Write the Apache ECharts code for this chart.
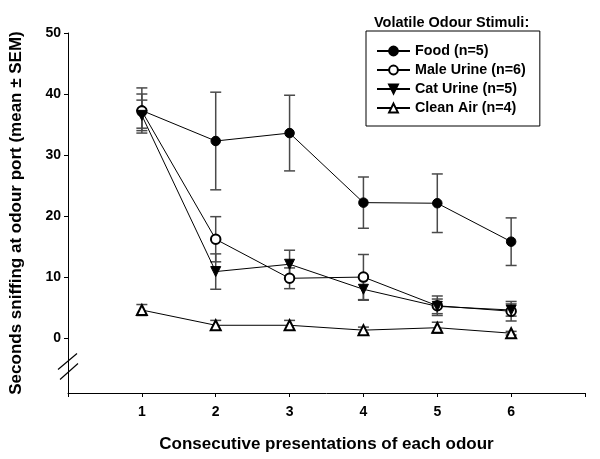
<!DOCTYPE html>
<html>
<head>
<meta charset="utf-8">
<script src="https://cdn.jsdelivr.net/npm/echarts@6/dist/echarts.min.js"></script>
<style>html,body{margin:0;padding:0;background:#fff;}#c{width:600px;height:459px;}</style>
</head>
<body>
<div id="c"></div>
<script>
const presentations = [1, 2, 3, 4, 5, 6];
const yTicks = [0, 10, 20, 30, 40, 50];
const xTickLabels = ['1', '2', '3', '4', '5', '6'];
const seriesNames = ['Food (n=5)', 'Male Urine (n=6)', 'Cat Urine (n=5)', 'Clean Air (n=4)'];
const foodMean = [37.3, 32.3, 33.6, 22.2, 22.1, 15.8];
const foodSem  = [3.7, 8.0, 6.2, 4.2, 4.8, 3.9];
const maleMean = [37.2, 16.2, 9.8, 10.0, 5.3, 4.4];
const maleSem  = [2.8, 3.7, 1.7, 3.7, 1.6, 1.6];
const catMean  = [36.5, 10.9, 12.1, 8.0, 5.2, 4.6];
const catSem   = [2.5, 2.9, 2.3, 1.8, 1.2, 1.0];
const airMean  = [4.6, 2.1, 2.1, 1.3, 1.7, 0.8];
const airSem   = [0.9, 0.8, 0.8, 0.5, 0.9, 0.3];

const FONT = 'Arial, "Liberation Sans", Helvetica, sans-serif';
const chart = echarts.init(document.getElementById('c'), null, {renderer: 'canvas'});

function pts(means) { return presentations.map((x, i) => [x, means[i]]); }
function errs(means, sems) { return presentations.map((x, i) => [x, means[i] - sems[i], means[i] + sems[i]]); }

function errSeries(means, sems) {
  return {
    type: 'custom',
    silent: true,
    z: 1,
    data: errs(means, sems),
    encode: {x: 0, y: [1, 2]},
    renderItem: function (params, api) {
      const x = api.value(0), lo = api.value(1), hi = api.value(2);
      const t = api.coord([x, hi]), b = api.coord([x, lo]);
      const w = 5.5;
      const st = {stroke: '#4a4a4a', lineWidth: 1.5};
      return {type: 'group', children: [
        {type: 'line', shape: {x1: t[0], y1: t[1], x2: b[0], y2: b[1]}, style: st},
        {type: 'line', shape: {x1: t[0] - w, y1: t[1], x2: t[0] + w, y2: t[1]}, style: st},
        {type: 'line', shape: {x1: b[0] - w, y1: b[1], x2: b[0] + w, y2: b[1]}, style: st}
      ]};
    }
  };
}

function lineSeries(name, means, symbol, size, rotate) {
  return {
    type: 'line', name: name, data: pts(means), z: 3,
    symbol: symbol, symbolSize: size, symbolRotate: rotate || 0,
    showAllSymbol: true,
    lineStyle: {color: '#000', width: 1},
    itemStyle: {color: '#000', borderColor: '#000', borderWidth: 1},
    emphasis: {disabled: true}
  };
}

const option = {
  animation: false,
  backgroundColor: '#fff',
  grid: {left: 63, right: 15, top: 33, bottom: 66, containLabel: false},
  legend: {
    data: seriesNames,
    orient: 'vertical',
    left: 366, top: 31,
    padding: [12, 14, 10, 10],
    borderColor: '#000', borderWidth: 1,
    itemWidth: 33, itemHeight: 11, itemGap: 3, itemTextGap: 8,
    textStyle: {fontFamily: FONT, fontWeight: 'bold', fontSize: 14.3, color: '#000', lineHeight: 16},
    selectedMode: false
  },
  xAxis: {
    type: 'value', min: 0, max: 7, interval: 1,
    name: 'Consecutive presentations of each odour',
    nameLocation: 'middle', nameGap: 43,
    nameTextStyle: {fontFamily: FONT, fontWeight: 'bold', fontSize: 17, color: '#000'},
    axisLine: {show: true, onZero: false, lineStyle: {color: '#000', width: 1}},
    axisTick: {show: true, length: 4, lineStyle: {color: '#000'}},
    axisLabel: {
      margin: 12, fontFamily: FONT, fontWeight: 'bold', fontSize: 14, color: '#000',
      formatter: function (v) { return (v >= 1 && v <= 6) ? xTickLabels[v - 1] : ''; }
    },
    splitLine: {show: false}
  },
  yAxis: {
    type: 'value', min: -9, max: 50,
    name: 'Seconds sniffing at odour port (mean \u00b1 SEM)',
    nameLocation: 'middle', nameGap: 43,
    nameTextStyle: {fontFamily: FONT, fontWeight: 'bold', fontSize: 17, color: '#000'},
    axisLine: {show: true, onZero: false, lineStyle: {color: '#000', width: 1}},
    axisTick: {show: true, length: 4, customValues: yTicks, lineStyle: {color: '#000'}},
    axisLabel: {margin: 7, customValues: yTicks, fontFamily: FONT, fontWeight: 'bold', fontSize: 14, color: '#000'},
    splitLine: {show: false}
  },
  series: [
    errSeries(foodMean, foodSem),
    errSeries(maleMean, maleSem),
    errSeries(catMean, catSem),
    errSeries(airMean, airSem),
    lineSeries(seriesNames[0], foodMean, 'circle', 9.5),
    lineSeries(seriesNames[1], maleMean, 'emptyCircle', 9.5),
    lineSeries(seriesNames[2], catMean, 'triangle', 10, 180),
    lineSeries(seriesNames[3], airMean, 'emptyTriangle', 10)
  ]
};
chart.setOption(option);

// axis break marks and legend title
const c = chart.convertToPixel({gridIndex: 0}, [0, -4.5]);
chart.setOption({
  graphic: [
    {type: 'line', shape: {x1: c[0] - 10, y1: c[1] + 4, x2: c[0] + 9, y2: c[1] - 12}, style: {stroke: '#000', lineWidth: 1.2}},
    {type: 'line', shape: {x1: c[0] - 8, y1: c[1] + 14, x2: c[0] + 10, y2: c[1] - 2}, style: {stroke: '#000', lineWidth: 1.2}},
    {type: 'text', left: 374, top: 15, style: {text: 'Volatile Odour Stimuli:', font: 'bold 14.5px ' + FONT, fill: '#000'}}
  ]
});
</script>
</body>
</html>
